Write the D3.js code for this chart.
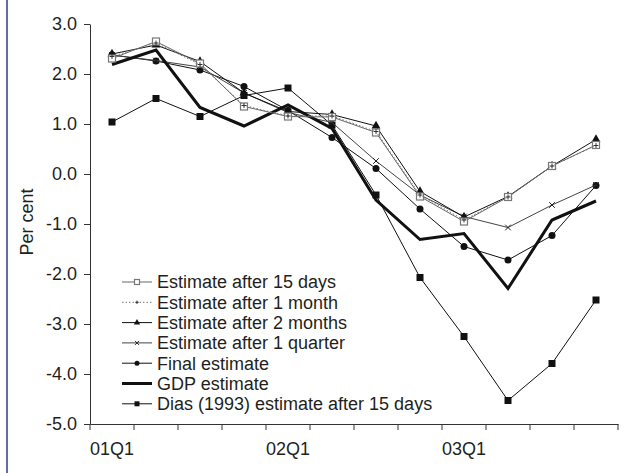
<!DOCTYPE html>
<html>
<head>
<meta charset="utf-8">
<script src="https://cdn.jsdelivr.net/npm/d3@7"></script>
<style>
  body { margin: 0; background: #fff; }
  svg text { font-family: "Liberation Sans", Arial, sans-serif; fill: #231f20; }
</style>
</head>
<body>
<div id="chart"></div>
<script>
// Quarters and series (per cent)
const quarters = ['01Q1', '01Q2', '01Q3', '01Q4', '02Q1', '02Q2', '02Q3', '02Q4', '03Q1', '03Q2', '03Q3', '03Q4'];
const quarterLabels = ['01Q1', '02Q1', '03Q1'];
const yTicks = [-5, -4, -3, -2, -1, 0, 1, 2, 3];

const est15days = [2.31, 2.65, 2.21, 1.35, 1.15, 1.14, 0.83, -0.45, -0.95, -0.46, 0.16, 0.58];
const est1month = [2.35, 2.62, 2.19, 1.37, 1.16, 1.16, 0.85, -0.42, -0.92, -0.46, 0.16, 0.57];
const est2months = [2.40, 2.58, 2.25, 1.62, 1.25, 1.19, 0.96, -0.35, -0.86, -0.45, 0.16, 0.69];
const est1quarter = [2.38, 2.27, 2.14, 1.62, 1.23, 1.03, 0.26, -0.42, -0.85, -1.07, -0.62, -0.22];
const finalEst = [2.38, 2.26, 2.08, 1.75, 1.27, 0.73, 0.11, -0.70, -1.45, -1.72, -1.23, -0.23];
const gdpEst = [2.19, 2.48, 1.33, 0.96, 1.38, 0.91, -0.52, -1.31, -1.19, -2.29, -0.92, -0.54];
const dias = [1.04, 1.51, 1.15, 1.57, 1.72, 0.98, -0.42, -2.07, -3.25, -4.53, -3.79, -2.52];

const series = [
    { name: 'Estimate after 15 days', values: est15days, color: '#666', width: 1, dash: null, marker: 'openSquare' },
    { name: 'Estimate after 1 month', values: est1month, color: '#777', width: 1, dash: '1.5,2', marker: 'plus' },
    { name: 'Estimate after 2 months', values: est2months, color: '#111', width: 1, dash: null, marker: 'triangle' },
    { name: 'Estimate after 1 quarter', values: est1quarter, color: '#444', width: 1, dash: null, marker: 'cross' },
    { name: 'Final estimate', values: finalEst, color: '#111', width: 1, dash: null, marker: 'circle' },
    { name: 'GDP estimate', values: gdpEst, color: '#111', width: 3, dash: null, marker: null },
    { name: 'Dias (1993) estimate after 15 days', values: dias, color: '#111', width: 1, dash: null, marker: 'square' }
];

const FONT = '18px';
const width = 622, height = 473;
const svg = d3.select('#chart').append('svg')
    .attr('width', width)
    .attr('height', height);

// blue frame line on the left
svg.append('line')
    .attr('x1', 7).attr('x2', 7).attr('y1', 0).attr('y2', height)
    .attr('stroke', '#2e3b8f').attr('stroke-width', 1.5);

const x = d3.scaleBand().domain(quarters).range([90, 618]);
const y = d3.scaleLinear().domain([-5, 3]).range([424, 24]);
const cx = q => x(q) + x.bandwidth() / 2;

// Y axis
const yAxis = svg.append('g')
    .attr('transform', 'translate(90,0)')
    .call(d3.axisLeft(y).tickValues(yTicks).tickSize(6).tickSizeOuter(0).tickPadding(7)
        .tickFormat(d => d.toFixed(1)));
yAxis.selectAll('text').style('font-size', FONT);

// X axis: labels at category centres, tick marks at band edges
const xAxis = svg.append('g')
    .attr('transform', 'translate(0,424)')
    .call(d3.axisBottom(x).tickValues(quarterLabels).tickSize(0).tickSizeOuter(0).tickPadding(18));
xAxis.selectAll('text').style('font-size', FONT);
xAxis.selectAll('.tick line').remove();
xAxis.selectAll('.edge')
    .data(quarters)
    .enter()
    .append('line')
    .attr('x1', d => x(d) + x.step()).attr('x2', d => x(d) + x.step())
    .attr('y1', 0).attr('y2', 6)
    .attr('stroke', '#333');
xAxis.append('line')
    .attr('x1', x.range()[0]).attr('x2', x.range()[0])
    .attr('y1', 0).attr('y2', 6)
    .attr('stroke', '#333');

svg.selectAll('.domain, .tick line').attr('stroke', '#333');

// y axis title
svg.append('text')
    .attr('transform', 'translate(33,222) rotate(-90)')
    .attr('text-anchor', 'middle')
    .style('font-size', FONT)
    .text('Per cent');

function drawMarker(g, type, px, py, color, s) {
    if (type === 'openSquare') {
        g.append('rect').attr('x', px - s / 2).attr('y', py - s / 2).attr('width', s).attr('height', s)
            .attr('fill', '#fff').attr('stroke', '#777').attr('stroke-width', 1.2);
    } else if (type === 'square') {
        g.append('rect').attr('x', px - s / 2).attr('y', py - s / 2).attr('width', s).attr('height', s)
            .attr('fill', '#111');
    } else if (type === 'circle') {
        g.append('circle').attr('cx', px).attr('cy', py).attr('r', s / 2).attr('fill', '#111');
    } else if (type === 'triangle') {
        g.append('path')
            .attr('d', d3.symbol(d3.symbolTriangle, s * s * 0.7)())
            .attr('transform', `translate(${px},${py})`).attr('fill', '#111');
    } else if (type === 'plus') {
        const h = s * 0.35;
        g.append('path')
            .attr('d', `M${px - h},${py}H${px + h}M${px},${py - h}V${py + h}`)
            .attr('stroke', '#333').attr('stroke-width', 1);
    } else if (type === 'cross') {
        const h = s * 0.4;
        g.append('path')
            .attr('d', `M${px - h},${py - h}L${px + h},${py + h}M${px - h},${py + h}L${px + h},${py - h}`)
            .attr('stroke', '#222').attr('stroke-width', 1);
    }
}

const line = d3.line()
    .x((d, i) => cx(quarters[i]))
    .y(d => y(d));

// draw lines in back-to-front order
const drawOrder = [6, 4, 3, 5, 2, 0, 1];
drawOrder.forEach(k => {
    const s = series[k];
    const g = svg.append('g');
    g.append('path')
        .datum(s.values)
        .attr('d', line)
        .attr('fill', 'none')
        .attr('stroke', s.color)
        .attr('stroke-width', s.width)
        .attr('stroke-dasharray', s.dash);
    if (s.marker) {
        s.values.forEach((v, i) => {
            drawMarker(g, s.marker, cx(quarters[i]), y(v), s.color, 7);
        });
    }
});

// Legend
const legend = svg.append('g');
series.forEach((s, i) => {
    const ly = 282 + i * 20.3;
    legend.append('line')
        .attr('x1', 122).attr('x2', 152).attr('y1', ly).attr('y2', ly)
        .attr('stroke', s.color).attr('stroke-width', s.width)
        .attr('stroke-dasharray', s.dash);
    if (s.marker) drawMarker(legend, s.marker, 137, ly, s.color, 5);
    legend.append('text')
        .attr('x', 157).attr('y', ly)
        .attr('dy', '0.36em')
        .style('font-size', FONT)
        .text(s.name);
});
</script>
</body>
</html>
